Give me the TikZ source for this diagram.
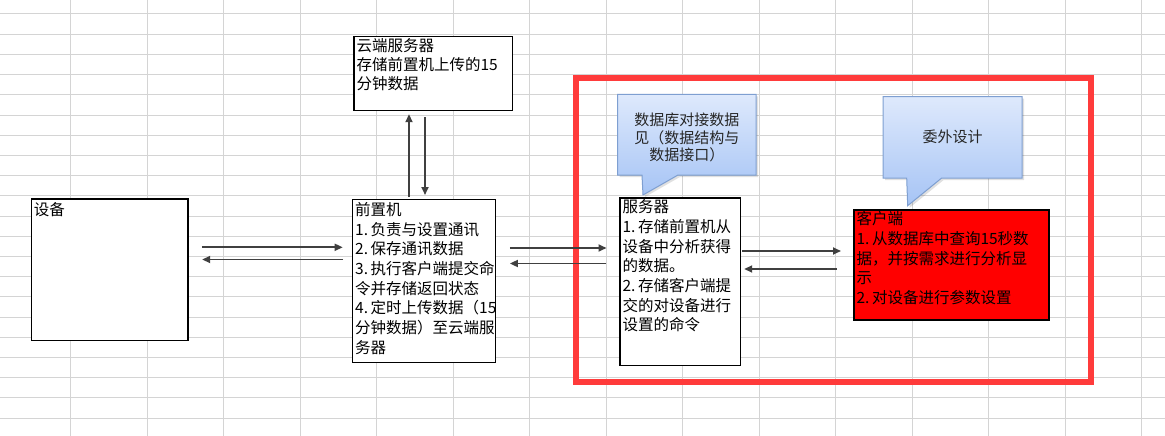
\documentclass[tikz,border=0pt]{standalone}
\usepackage{fontspec}
\setmainfont{Noto Sans CJK SC}
\usetikzlibrary{arrows.meta,calc}
\definecolor{gridc}{HTML}{D4D4D4}
\definecolor{framec}{HTML}{FF3B3B}
\definecolor{arrc}{HTML}{404040}
\definecolor{ctop}{HTML}{DEE9FC}
\definecolor{cbot}{HTML}{A6C4F5}
\definecolor{cborder}{HTML}{7E9FD1}
\newcommand\nm[1]{\makebox[1em][l]{#1}}
\begin{document}
\begin{tikzpicture}[x=1pt,y=-1pt,
  gridline/.style={draw=gridc,line width=1pt},
  boxnode/.style={draw=black,line width=1.2pt,fill=white,inner sep=0pt,anchor=north west},
  txt/.style={anchor=north west,inner sep=0pt,align=left,text=black,font=\fontsize{15.5}{19.7}\selectfont},
  arr/.style={draw=arrc,line width=1.8pt,-{Triangle[length=8pt,width=7pt]}},
  calloutbody/.style={draw=cborder,line width=1pt,top color=ctop,bottom color=cbot},
  callshadow/.style={fill=black,opacity=0.12},
  ctxt/.style={align=center,inner sep=0pt,text=black!85,font=\fontsize{15}{17.8}\selectfont},
  redframe/.style={draw=framec,line width=6pt}]
\useasboundingbox (0,0) rectangle (1165,436);
\fill[white] (0,0) rectangle (1165,436);
% spreadsheet grid
\foreach \i in {0,...,14} \draw[gridline] (70.5+76.5*\i,0) -- (70.5+76.5*\i,436);
\foreach \j in {0,...,20} \draw[gridline] (0,14+20.2*\j) -- (1165,14+20.2*\j);

% boxes
\node[boxnode,minimum width=156.6pt,minimum height=141.7pt] (dev) at (30.7,198.3) {};
\node[txt] (devt) at ($(dev.north west)+(3,3)$) {\strut 设备};

\node[boxnode,minimum width=143pt,minimum height=163pt] (pre) at (352,199) {};
\node[txt] (pret) at ($(pre.north west)+(3,2.5)$) {\strut 前置机\\\nm{1.}负责与设置通讯\\\nm{2.}保存通讯数据\\\nm{3.}执行客户端提交命\\令并存储返回状态\\\nm{4.}定时上传数据（15\\分钟数据）至云端服\\务器};

\node[boxnode,minimum width=158.4pt,minimum height=74pt] (cloud) at (353.3,36) {};
\node[txt,font=\fontsize{15.5}{19}\selectfont] (cloudt) at ($(cloud.north west)+(3,1.5)$) {\strut 云端服务器\\存储前置机上传的15\\分钟数据};

\node[boxnode,minimum width=120.7pt,minimum height=167.7pt] (srv) at (619.3,197.3) {};
\node[txt] (srvt) at ($(srv.north west)+(3,1.5)$) {\strut 服务器\\\nm{1.}存储前置机从\\设备中分析获得\\的数据。\\\nm{2.}存储客户端提\\交的对设备进行\\设置的命令};

\node[boxnode,fill=red,minimum width=195pt,minimum height=110pt] (cli) at (853.3,209.3) {};
\node[txt] (clit) at ($(cli.north west)+(3,1.5)$) {\strut 客户端\\\nm{1.}从数据库中查询15秒数\\据，并按需求进行分析显\\示\\\nm{2.}对设备进行参数设置};

% red frame
\draw[redframe] (575.7,78.2) rectangle (1091,382);

% callouts
\path[callshadow] (619.7,96.3) -- (758,96.3) -- (758,177) -- (680,177) -- (645,197) -- (644,177) -- (619.7,177) -- cycle;
\path[calloutbody] (617.7,94.3) -- (756,94.3) -- (756,175) -- (678,175) -- (643,195) -- (642,175) -- (617.7,175) -- cycle;
\node[ctxt] (c1) at (686.8,137.5) {数据库对接数据\\见（数据结构与\\数据接口）};

\path[callshadow] (885,98.7) -- (1024,98.7) -- (1024,180) -- (943.7,180) -- (909.7,207.7) -- (908.7,180) -- (885,180) -- cycle;
\path[calloutbody] (883,96.7) -- (1022,96.7) -- (1022,178) -- (941.7,178) -- (907.7,205.7) -- (906.7,178) -- (883,178) -- cycle;
\node[ctxt] (c2) at (952.5,137) {委外设计};

% connectors
\draw[arr] ($(dev.north east)+(13.4,49)$) -- ($(pre.north west)+(-9.3,48.3)$);
\draw[arr] ($(pre.north west)+(-9,60.5)$) -- ($(dev.north east)+(13.7,61.2)$);

\draw[arr] ($(pre.north west)+(57,-2)$) -- ($(cloud.south west)+(55.7,3)$);
\draw[arr] ($(cloud.south west)+(71.7,6)$) -- ($(pre.north west)+(73,-4)$);

\draw[arr] ($(pre.north east)+(13.7,49)$) -- ($(srv.north west)+(-12.8,50.7)$);
\draw[arr] ($(srv.north west)+(-13.3,66.2)$) -- ($(pre.north east)+(13.7,64.5)$);

\draw[arr] ($(srv.north east)+(1,53.7)$) -- ($(cli.north west)+(-12.3,41.7)$);
\draw[arr] ($(cli.north west)+(-16.3,59.7)$) -- ($(srv.north east)+(3,71.7)$);
\end{tikzpicture}
\end{document}
